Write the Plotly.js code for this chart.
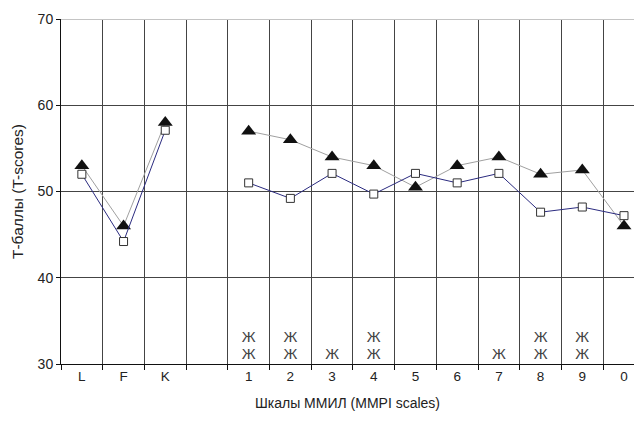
<!DOCTYPE html>
<html>
<head>
<meta charset="utf-8">
<script src="https://cdn.plot.ly/plotly-3.0.1.min.js"></script>
<style>html,body{margin:0;padding:0;background:#fff;}#chart{width:634px;height:421px;}</style>
</head>
<body>
<div id="chart"></div>
<script>
// Scales (blank slot separates validity scales from clinical scales)
const categories = ['L', 'F', 'K', ' ', '1', '2', '3', '4', '5', '6', '7', '8', '9', '0'];
// Series with filled triangles (grey line)
const triangleValues = [53, 46, 58, null, 57, 56, 54, 53, 50.5, 53, 54, 52, 52.5, 46];
// Series with open squares (navy line)
const squareValues = [52, 44.2, 57.1, null, 51, 49.2, 52.1, 49.7, 52.1, 51, 52.1, 47.6, 48.2, 47.2];
// Significance marks (Ж)
const sigLowerScales = ['1', '2', '3', '4', '7', '8', '9'];
const sigLowerLevel = 31;
const sigUpperScales = ['1', '2', '4', '8', '9'];
const sigUpperLevel = 33;
const sigSymbol = 'Ж';
const yTicks = [30, 40, 50, 60, 70];

const fontFam = 'Liberation Sans, Arial, sans-serif';

const traces = [
  {
    x: categories, y: triangleValues, type: 'scatter', mode: 'lines+markers',
    connectgaps: false,
    line: {color: '#a0a0a0', width: 1},
    marker: {symbol: 'triangle-up', size: 13, color: '#111111', line: {width: 0}},
    hoverinfo: 'skip'
  },
  {
    x: categories, y: squareValues, type: 'scatter', mode: 'lines+markers',
    connectgaps: false,
    line: {color: '#2b2b80', width: 1},
    marker: {symbol: 'square', size: 8, color: '#ffffff', line: {color: '#333333', width: 1}},
    hoverinfo: 'skip'
  },
  {
    x: sigLowerScales, y: sigLowerScales.map(() => sigLowerLevel), type: 'scatter', mode: 'text',
    text: sigLowerScales.map(() => sigSymbol),
    textfont: {family: fontFam, size: 15, color: '#444444'},
    textposition: 'middle center', hoverinfo: 'skip'
  },
  {
    x: sigUpperScales, y: sigUpperScales.map(() => sigUpperLevel), type: 'scatter', mode: 'text',
    text: sigUpperScales.map(() => sigSymbol),
    textfont: {family: fontFam, size: 15, color: '#444444'},
    textposition: 'middle center', hoverinfo: 'skip'
  }
];

const layout = {
  width: 634, height: 421,
  margin: {l: 61, r: 0, t: 19, b: 57},
  paper_bgcolor: '#ffffff', plot_bgcolor: '#ffffff',
  showlegend: false,
  font: {family: fontFam, color: '#222222', size: 13},
  xaxis: {
    type: 'category',
    categoryorder: 'array', categoryarray: categories,
    range: [-0.5, 13.24],
    tickson: 'boundaries',
    showgrid: true, gridcolor: '#444444', gridwidth: 1,
    showline: true, linecolor: '#111111', linewidth: 1,
    ticks: 'outside', ticklen: 5, tickcolor: '#111111',
    tickfont: {family: fontFam, size: 13.5, color: '#222222'},
    title: {text: 'Шкалы ММИЛ (MMPI scales)', font: {family: fontFam, size: 14, color: '#222222'}, standoff: 14},
    zeroline: false, fixedrange: true
  },
  yaxis: {
    range: [30, 70],
    tickvals: yTicks,
    showgrid: true, gridcolor: '#444444', gridwidth: 1,
    showline: true, linecolor: '#111111', linewidth: 1,
    ticks: 'outside', ticklen: 4, tickcolor: '#111111',
    tickfont: {family: fontFam, size: 14, color: '#222222'},
    title: {text: 'Т-баллы (T-scores)', font: {family: fontFam, size: 15.5, color: '#222222'}, standoff: 10},
    zeroline: false, fixedrange: true
  },
  shapes: [
    {type: 'line', xref: 'paper', yref: 'y', x0: 0, x1: 1, y0: 70, y1: 70,
     line: {color: '#c4c4c4', width: 2}, layer: 'above'}
  ]
};

Plotly.newPlot('chart', traces, layout, {staticPlot: true, displayModeBar: false});
</script>
</body>
</html>
